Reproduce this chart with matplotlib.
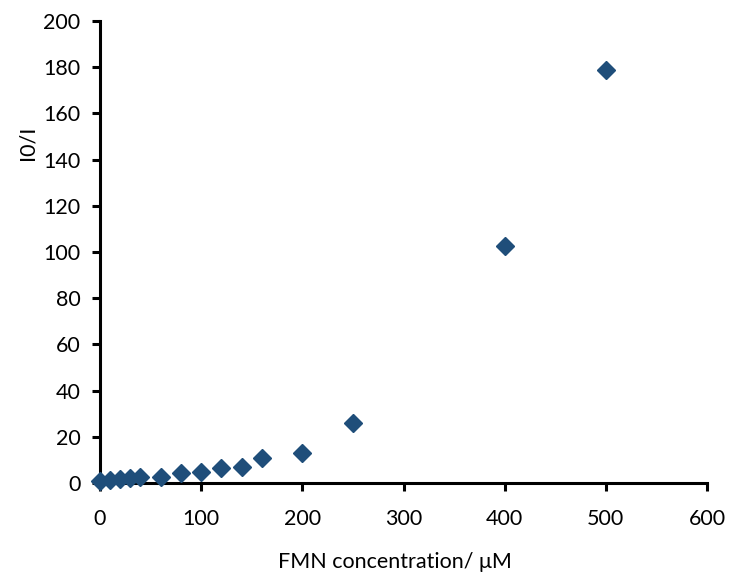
import matplotlib
matplotlib.use("Agg")
import matplotlib.pyplot as plt

# FMN quenching data
conc = [0, 10, 20, 30, 40, 60, 80, 100, 120, 140, 160, 200, 250, 400, 500]
ratio = [1.0, 1.3, 1.8, 2.3, 2.4, 2.7, 4.4, 4.9, 6.3, 7.0, 10.6, 12.8, 26.0, 102.6, 178.9]

x_ticks = [0, 100, 200, 300, 400, 500, 600]
y_ticks = [0, 20, 40, 60, 80, 100, 120, 140, 160, 180, 200]

plt.rcParams['font.family'] = ['Lato', 'DejaVu Sans']

fig = plt.figure(figsize=(7.3, 5.78), dpi=100)
ax = fig.add_axes([0.137, 0.1644, 0.8315, 0.7993])

ax.plot(conc, ratio, linestyle='none', marker='D', markersize=9,
        color='#1F4E7A', clip_on=False, zorder=3)

ax.set_xlim(0, 600)
ax.set_ylim(0, 200)
ax.set_xticks(x_ticks)
ax.set_yticks(y_ticks)

for side in ['top', 'right']:
    ax.spines[side].set_visible(False)
for side in ['left', 'bottom']:
    ax.spines[side].set_linewidth(2.2)

ax.tick_params(direction='out', length=6, width=2.2, labelsize=15.5)
ax.tick_params(axis='x', pad=13)
ax.tick_params(axis='y', pad=8)

ax.set_xlabel('FMN concentration/ μM', fontsize=15.5)
ax.xaxis.set_label_coords(0.486, -0.15)
ax.set_ylabel('I0/I', fontsize=15.5)
ax.yaxis.set_label_coords(-0.103, 0.736)

fig.savefig('out.png', dpi=100)
